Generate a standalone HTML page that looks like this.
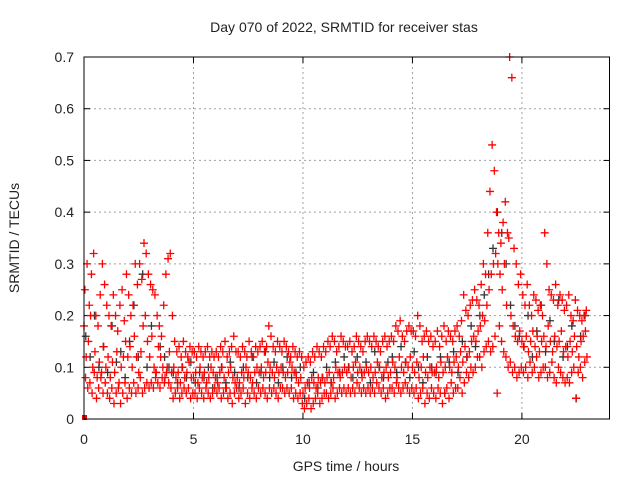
<!DOCTYPE html>
<html><head><meta charset="utf-8"><style>
html,body{margin:0;padding:0;background:#fff;}
svg{display:block;font-family:"Liberation Sans",sans-serif;}
</style></head><body>
<svg id="chart" width="640" height="480">
<text x="344" y="32" font-size="14" text-anchor="middle" fill="#222">Day 070 of 2022, SRMTID for receiver stas</text>
<text x="346" y="471" font-size="14" text-anchor="middle" fill="#222">GPS time / hours</text>
<text transform="translate(19,238) rotate(-90)" font-size="14" text-anchor="middle" fill="#222">SRMTID / TECUs</text>
<g id="grid"></g>
<g id="ticks"></g>
<g id="marks"></g>
<rect x="84" y="57" width="525.5" height="362" fill="none" stroke="#000" stroke-width="1"/>
</svg>
<script>
const xTicks=[0,5,10,15,20];
const yTicks=[0,0.1,0.2,0.3,0.4,0.5,0.6,0.7];
const yTickLabels=["0","0.1","0.2","0.3","0.4","0.5","0.6","0.7"];
const redMid=[.18,.12,.15,.2,.1,.13,.08,.11,.09,.14,.1,.12,.08,.11,.09,.13,.07,.1,.12,.15,.12,.14,.1,.16,.12,.09,.13,.18,.2,.15,.12,.16,.1,.09,.14,.12,.1,.08,.1,.13,.09,.1,.08,.09,.07,.1,.08,.09,.11,.08,.08,.09,.07,.1,.08,.09,.07,.08,.1,.09,.08,.07,.09,.1,.08,.06,.09,.1,.08,.07,.08,.07,.09,.08,.1,.09,.08,.07,.09,.1,.09,.1,.08,.09,.11,.1,.09,.08,.1,.09,.1,.09,.08,.09,.11,.1,.09,.08,.07,.08,.05,.06,.07,.06,.08,.07,.06,.08,.07,.08,.07,.08,.09,.07,.08,.1,.09,.08,.09,.1,.09,.1,.08,.1,.11,.09,.1,.08,.09,.1,.09,.1,.08,.09,.11,.1,.08,.09,.1,.08,.09,.11,.1,.08,.12,.1,.09,.11,.1,.12,.1,.09,.11,.08,.1,.12,.09,.08,.1,.09,.09,.1,.08,.11,.09,.1,.12,.1,.09,.11,.12,.1,.13,.11,.14,.12,.13,.15,.16,.15,.17,.18,.2,.19,.22,.25,.28,.3,.32,.3,.28,.25,.3,.22,.35,.2,.18,.16,.15,.17,.15,.14,.16,.13,.15,.17,.14,.16,.13,.15,.16,.14,.18,.15,.13,.16,.14,.15,.17,.13,.14,.12,.15,.13,.16,.14,.12,.15,.16,.17];
const redHigh=[.25,.3,.22,.28,.32,.2,.18,.24,.3,.26,.22,.2,.18,.24,.2,.17,.22,.25,.19,.28,.24,.2,.22,.3,.26,.3,.27,.34,.32,.28,.26,.25,.24,.2,.18,.16,.22,.28,.31,.32,.2,.15,.13,.14,.12,.15,.13,.12,.14,.13,.13,.12,.14,.13,.12,.13,.14,.12,.13,.12,.13,.12,.14,.13,.15,.12,.13,.14,.16,.13,.13,.12,.14,.13,.12,.15,.13,.12,.14,.13,.14,.15,.13,.14,.18,.16,.14,.13,.15,.14,.13,.15,.14,.13,.12,.14,.13,.12,.13,.12,.1,.11,.12,.11,.13,.12,.14,.13,.12,.14,.13,.15,.14,.16,.15,.13,.14,.16,.15,.14,.14,.15,.13,.14,.16,.15,.14,.13,.15,.16,.15,.14,.16,.15,.14,.13,.15,.16,.14,.15,.16,.15,.18,.17,.19,.16,.15,.17,.18,.17,.17,.16,.2,.18,.15,.16,.17,.15,.16,.14,.15,.17,.14,.16,.18,.15,.17,.16,.15,.17,.18,.16,.19,.24,.21,.2,.22,.23,.25,.23,.22,.26,.3,.28,.36,.44,.53,.48,.4,.36,.34,.38,.42,.36,.7,.66,.33,.3,.26,.28,.24,.22,.26,.22,.2,.24,.23,.21,.22,.2,.36,.3,.25,.24,.23,.26,.22,.24,.23,.21,.22,.24,.2,.19,.23,.21,.2,.19,.2,.21];
const redLow=[.08,.06,.07,.05,.09,.04,.06,.08,.05,.07,.05,.04,.06,.03,.05,.06,.03,.05,.07,.04,.06,.05,.07,.05,.06,.08,.05,.06,.07,.06,.07,.06,.08,.07,.06,.08,.07,.09,.07,.06,.04,.05,.06,.04,.05,.06,.05,.06,.04,.05,.05,.04,.06,.05,.04,.06,.05,.04,.05,.06,.05,.06,.04,.05,.06,.04,.05,.03,.05,.06,.04,.05,.06,.03,.05,.04,.06,.05,.04,.06,.05,.06,.05,.04,.06,.05,.06,.05,.04,.06,.06,.05,.06,.05,.06,.04,.05,.04,.05,.03,.02,.03,.04,.02,.03,.04,.05,.03,.04,.05,.05,.04,.05,.06,.04,.05,.06,.05,.06,.05,.06,.05,.06,.05,.07,.06,.05,.06,.05,.06,.05,.06,.05,.07,.06,.05,.06,.04,.05,.06,.06,.05,.07,.06,.05,.06,.07,.06,.05,.06,.05,.06,.04,.05,.06,.03,.05,.04,.06,.05,.04,.06,.05,.03,.05,.06,.04,.07,.05,.06,.06,.08,.05,.07,.09,.08,.1,.09,.1,.12,.12,.1,.13,.14,.15,.13,.14,.16,.05,.18,.15,.13,.12,.1,.11,.09,.1,.08,.09,.1,.09,.1,.08,.11,.09,.1,.12,.08,.09,.1,.1,.08,.09,.11,.08,.07,.1,.09,.08,.07,.08,.07,.09,.1,.04,.09,.1,.08,.11,.12];
const blackVals=[.16,.12,.2,.1,.14,.09,.18,.11,.13,.08,.15,.22,.12,.28,.1,.18,.09,.14,.12,.1,.09,.07,.1,.08,.11,.07,.09,.08,.1,.06,.08,.1,.07,.11,.09,.06,.1,.08,.12,.07,.09,.13,.08,.11,.07,.1,.12,.08,.09,.1,.04,.07,.09,.06,.08,.1,.07,.11,.09,.12,.1,.08,.12,.09,.11,.07,.13,.1,.08,.11,.12,.09,.14,.11,.08,.13,.1,.07,.12,.1,.09,.12,.05,.11,.13,.09,.15,.12,.18,.14,.2,.24,.28,.33,.4,.36,.3,.22,.18,.16,.14,.2,.12,.17,.22,.13,.19,.15,.23,.12,.14,.18,.04,.16,.2];

const X0=84,X1=609.5,Y0=419,Y1=57,XMAX=24,YMAX=0.7;
const xs=v=>X0+(X1-X0)*v/XMAX;
const ys=v=>Y0-(Y0-Y1)*v/YMAX;
const NS="http://www.w3.org/2000/svg";
const grid=document.getElementById('grid'),ticks=document.getElementById('ticks'),marks=document.getElementById('marks');
function mk(tag,attrs,parent){const e=document.createElementNS(NS,tag);for(const k in attrs)e.setAttribute(k,attrs[k]);parent.appendChild(e);return e;}
xTicks.forEach(t=>{
  const x=xs(t);
  if(t>0){const g=mk('line',{x1:x,x2:x,y1:Y1,y2:Y0,stroke:'#a0a0a0','stroke-dasharray':'2,3'},grid);
  
  }
  mk('line',{x1:x,x2:x,y1:Y0,y2:Y0-6,stroke:'#000'},ticks);
  mk('line',{x1:x,x2:x,y1:Y1,y2:Y1+6,stroke:'#000'},ticks);
  const l=mk('text',{x:x,y:Y0+25,'font-size':14,'text-anchor':'middle',fill:'#222'},ticks);
  l.textContent=String(t);
  
  
});
yTicks.forEach((t,i)=>{
  const y=ys(t);
  if(t>0&&t<0.7){const g=mk('line',{x1:X0,x2:X1,y1:y,y2:y,stroke:'#a0a0a0','stroke-dasharray':'2,3'},grid);
  
  }
  mk('line',{x1:X0,x2:X0+6,y1:y,y2:y,stroke:'#000'},ticks);
  mk('line',{x1:X1,x2:X1-6,y1:y,y2:y,stroke:'#000'},ticks);
  const l=mk('text',{x:X0-10,y:y+5,'font-size':14,'text-anchor':'end',fill:'#222'},ticks);
  l.textContent=yTickLabels[i];
  
  
});
function plus(t,v,color,name){
  const x=xs(t),y=ys(v);
  const p=mk('path',{d:`M${x-4},${y}h8M${x},${y-4}v8`,stroke:color,'stroke-width':1.3,fill:'none'},marks);
  
  
}
blackVals.forEach((v,i)=>plus(i*0.2+0.08,v,'#333','point-black'));
redMid.forEach((v,i)=>plus(i*0.1,v,'#ff0000','point-red'));
redHigh.forEach((v,i)=>plus(i*0.1+0.04,v,'#ff0000','point-red'));
redLow.forEach((v,i)=>plus(i*0.1+0.07,v,'#ff0000','point-red'));
const sq=mk('rect',{x:xs(0)-2,y:ys(0)-4,width:5,height:5,fill:'#ff0000'},marks);


</script>
</body></html>
